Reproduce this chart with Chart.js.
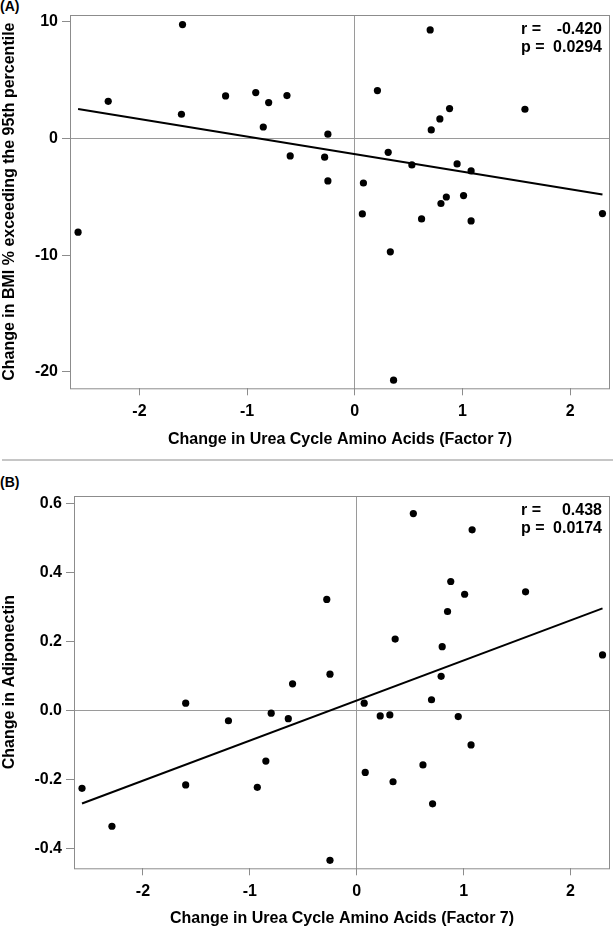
<!DOCTYPE html>
<html>
<head>
<meta charset="utf-8">
<script src="https://cdn.jsdelivr.net/npm/chart.js@4.4.1/dist/chart.umd.min.js"></script>
<style>
  html, body { margin: 0; padding: 0; background: #fff; }
  body { width: 614px; height: 927px; position: relative; overflow: hidden; font-family: "Liberation Sans", Arial, sans-serif; }
  .panel { position: absolute; left: 0; width: 614px; }
  .tag { position: absolute; left: 0; font-weight: bold; font-size: 14px; line-height: 16px; color: #000; }
  .rule { position: absolute; left: 2px; width: 611px; top: 459px; height: 2px; background: #c6c6c6; }
</style>
</head>
<body>
<div class="tag" style="top:-2px">(A)</div>
<div class="panel" style="top:0;height:455px"><canvas id="chartA"></canvas></div>
<div class="rule"></div>
<div class="tag" style="top:474px">(B)</div>
<div class="panel" style="top:465px;height:465px"><canvas id="chartB"></canvas></div>
<script>
// shared x axis
const xTitle = 'Change in Urea Cycle Amino Acids (Factor 7)';
const xTicks = [-2, -1, 0, 1, 2];

// panel A: BMI % over the 95th percentile
const factorA = [-1.60, 0.70, -2.29, -1.20, -0.92, -0.80, -0.63, -1.61, -0.85, -0.25, 0.21,
  0.88, 1.58, 0.79, 0.71, -0.60, -0.28, 0.31, -0.25, 0.53, 0.95, 1.08, 0.08, 1.01, 0.85,
  0.80, 0.07, 2.30, 0.62, 1.08, -2.57, 0.33, 0.36];
const bmiChange = [9.78, 9.32, 3.20, 3.66, 3.95, 3.09, 3.69, 2.09, 1.00, 0.38, 4.12,
  2.58, 2.52, 1.69, 0.75, -1.48, -1.59, -1.17, -3.62, -2.25, -2.17, -2.77, -3.80, -4.88, -5.00,
  -5.56, -6.45, -6.42, -6.88, -7.05, -8.02, -9.70, -20.7];
const fitA = [[-2.57, 2.55], [2.30, -4.79]];
const yTicksA = [10, 0, -10, -20];
const statsA = ['-0.420', '0.0294'];

// panel B: adiponectin
const factorB = [0.53, 1.08, 0.88, 1.01, 1.58, -0.28, 0.85, 0.36, 0.80, 2.30, -0.25, 0.79,
  -0.60, -1.60, 0.07, 0.70, -0.80, -1.20, -0.64, 0.22, 0.31, 0.95, 1.07, -0.85, 0.62, 0.08,
  0.34, -1.60, -0.93, -2.57, 0.71, -2.29, -0.25];
const adiponectin = [0.571, 0.524, 0.374, 0.337, 0.344, 0.322, 0.287, 0.207, 0.185, 0.161, 0.105, 0.099,
  0.077, 0.021, 0.021, 0.031, -0.008, -0.030, -0.024, -0.016, -0.013, -0.018, -0.100, -0.147, -0.158, -0.180,
  -0.207, -0.216, -0.223, -0.226, -0.271, -0.336, -0.435];
const fitB = [[-2.57, -0.270], [2.30, 0.296]];
const yTicksB = [0.6, 0.4, 0.2, 0.0, -0.2, -0.4];
const statsB = ['0.438', '0.0174'];

const FONT = "'Liberation Sans', Arial, sans-serif";
const AXIS_GRAY = '#8c8c8c';
const REF_GRAY = '#9a9a9a';

// frame around the plot + r/p box text
const framePlugin = {
  id: 'frameAndStats',
  afterDraw(chart, args, opts) {
    const { ctx, chartArea: a } = chart;
    ctx.save();
    ctx.strokeStyle = AXIS_GRAY;
    ctx.lineWidth = 1;
    ctx.strokeRect(a.left + 0.5, a.top + 0.5, a.right - a.left - 1, a.bottom - a.top);
    ctx.fillStyle = '#000';
    ctx.font = `bold 16px ${FONT}`;
    ctx.textBaseline = 'middle';
    const rows = [['r =', opts.r], ['p =', opts.p]];
    rows.forEach(([lab, val], i) => {
      const y = a.top + 15 + i * 17.5;
      ctx.textAlign = 'left';
      ctx.fillText(lab, a.right - 89, y);
      ctx.textAlign = 'right';
      ctx.fillText(val, a.right - 8, y);
    });
    ctx.restore();
  }
};

function makePanel(canvasId, xs, ys, fit, yTicks, yFmt, yTitle, stats, lay) {
  const points = xs.map((x, i) => ({ x, y: ys[i] }));
  const line = fit.map(([x, y]) => ({ x, y }));
  const refColor = (ctx) => (ctx.tick && ctx.tick.value === 0 ? REF_GRAY : 'rgba(0,0,0,0)');

  return new Chart(document.getElementById(canvasId), {
    type: 'scatter',
    data: {
      datasets: [
        {
          data: points,
          pointRadius: 3.6,
          pointBackgroundColor: '#000',
          pointBorderWidth: 0,
        },
        {
          type: 'line',
          data: line,
          showLine: true,
          borderColor: '#000',
          borderWidth: 2,
          pointRadius: 0,
          fill: false,
        },
      ],
    },
    options: {
      responsive: true,
      maintainAspectRatio: false,
      animation: false,
      events: [],
      layout: { padding: { top: lay.top, right: 1, left: 0, bottom: 0 } },
      plugins: {
        legend: { display: false },
        tooltip: { enabled: false },
        frameAndStats: { r: stats[0], p: stats[1] },
      },
      scales: {
        x: {
          type: 'linear',
          min: -2.645,
          max: 2.37,
          afterBuildTicks: (s) => { s.ticks = xTicks.map((v) => ({ value: v })); },
          afterFit: (s) => { s.height = lay.xHeight; },
          border: { display: false },
          grid: { color: refColor, tickColor: AXIS_GRAY, tickLength: 7, lineWidth: 1 },
          ticks: {
            color: '#000',
            padding: 7,
            maxRotation: 0,
            font: { family: FONT, size: 16, weight: 'bold' },
            callback: (v) => String(v),
          },
          title: {
            display: true,
            text: xTitle,
            color: '#000',
            padding: { top: 0, bottom: lay.titlePad },
            font: { family: FONT, size: 16, weight: 'bold' },
          },
        },
        y: {
          type: 'linear',
          min: lay.yMin,
          max: lay.yMax,
          afterBuildTicks: (s) => { s.ticks = yTicks.map((v) => ({ value: v })); },
          afterFit: (s) => { s.width = lay.yWidth; },
          border: { display: false },
          grid: { color: refColor, tickColor: AXIS_GRAY, tickLength: 8, lineWidth: 1 },
          ticks: {
            color: '#000',
            padding: 4,
            font: { family: FONT, size: 16, weight: 'bold' },
            callback: yFmt,
          },
          title: {
            display: true,
            text: yTitle,
            color: '#000',
            padding: { top: 0, bottom: 0 },
            font: { family: FONT, size: 16, weight: 'bold' },
          },
        },
      },
    },
    plugins: [framePlugin],
  });
}

makePanel('chartA', factorA, bmiChange, fitA, yTicksA, (v) => String(v),
  'Change in BMI % exceeding the 95th percentile', statsA,
  { top: 15, yMin: -21.4, yMax: 10.6, yWidth: 70, xHeight: 66.7, titlePad: 6 });

makePanel('chartB', factorB, adiponectin, fitB, yTicksB, (v) => v.toFixed(1),
  'Change in Adiponectin', statsB,
  { top: 31, yMin: -0.458, yMax: 0.622, yWidth: 74, xHeight: 61.7, titlePad: 2 });
</script>
</body>
</html>
